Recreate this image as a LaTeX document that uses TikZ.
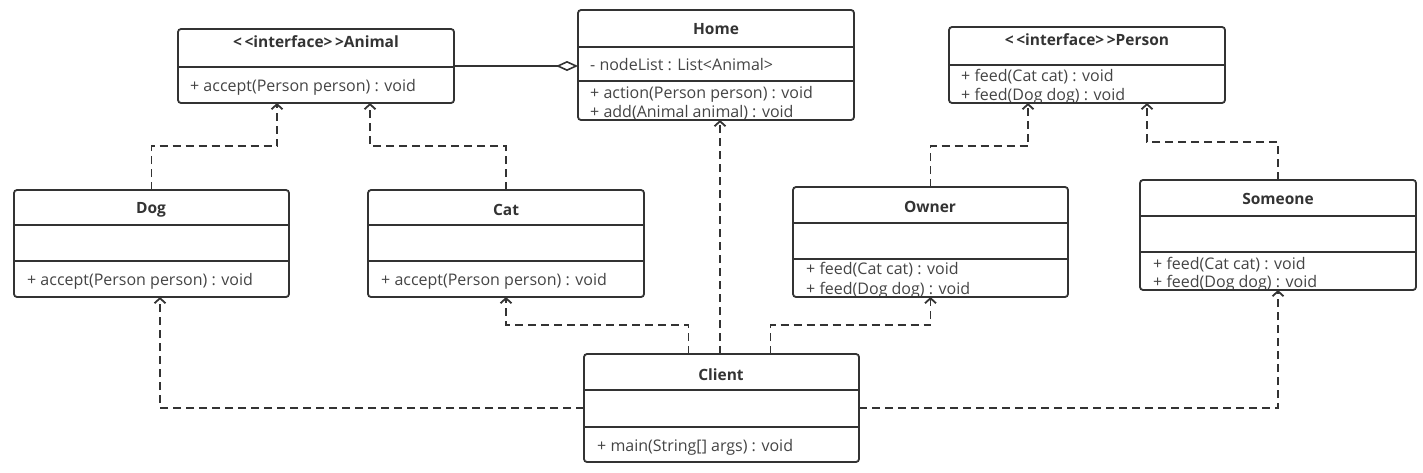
\documentclass[tikz,border=0pt]{standalone}
\usepackage{fontspec}
\setmainfont{Open Sans}
\usetikzlibrary{arrows.meta}
\definecolor{ln}{HTML}{333333}
\definecolor{tx}{HTML}{444444}
\tikzset{
  cls/.style={draw=ln, line width=1.8pt, rounded corners=3pt, inner sep=0pt, outer sep=0pt},
  div/.style={draw=ln, line width=1.8pt},
  ttl/.style={font=\fontsize{15.5}{17}\selectfont\bfseries, text=ln, inner sep=0pt},
  mth/.style={font=\fontsize{16}{18}\selectfont, text=tx, anchor=west, inner sep=0pt},
  dep/.style={draw=ln, line width=1.8pt, dash pattern=on 8pt off 5pt, -{Straight Barb[length=5pt,width=11pt,line width=1.8pt]}},
  agg/.style={draw=ln, line width=1.8pt, -{Diamond[open,length=22pt,width=10pt,line width=1.6pt]}}
}
\newcommand{\stereo}[1]{<\kern2.5pt<interface>\kern2.5pt>#1}
\begin{document}
\begin{tikzpicture}[x=1pt,y=-1pt]
\useasboundingbox (0,0) rectangle (1423,472);
% texts
\node[ttl] at (316,42) {\stereo{Animal}};
\node[mth] at (190,87) {+ accept(Person person) : void};
\node[ttl] at (716,29) {Home};
\node[mth] at (590,65) {- nodeList : List<Animal>};
\node[mth] at (590,94) {+ action(Person person) : void};
\node[mth] at (590,113) {+ add(Animal animal) : void};
\node[ttl] at (1087,40) {\stereo{Person}};
\node[mth] at (961,77) {+ feed(Cat cat) : void};
\node[mth] at (961,96) {+ feed(Dog dog) : void};
\node[ttl] at (151,210) {Dog};
\node[mth] at (27,281) {+ accept(Person person) : void};
\node[ttl] at (506,210) {Cat};
\node[mth] at (381,281) {+ accept(Person person) : void};
\node[ttl] at (930,207) {Owner};
\node[mth] at (806,270) {+ feed(Cat cat) : void};
\node[mth] at (806,290) {+ feed(Dog dog) : void};
\node[ttl] at (1278,199) {Someone};
\node[mth] at (1153,265) {+ feed(Cat cat) : void};
\node[mth] at (1153,283) {+ feed(Dog dog) : void};
\node[ttl] at (721,375) {Client};
\node[mth] at (597,447) {+ main(String[] args) : void};
% boxes
\node[cls, minimum width=276pt, minimum height=74pt] (animal) at (316,66) {};
\node[cls, minimum width=276pt, minimum height=110pt] (home) at (716,65) {};
\node[cls, minimum width=276pt, minimum height=76pt] (person) at (1087,65) {};
\node[cls, minimum width=275pt, minimum height=107pt] (dog) at (151.5,243.5) {};
\node[cls, minimum width=276pt, minimum height=107pt] (cat) at (506,243.5) {};
\node[cls, minimum width=275pt, minimum height=110pt] (owner) at (930.5,242) {};
\node[cls, minimum width=276pt, minimum height=110pt] (someone) at (1278,235) {};
\node[cls, minimum width=275pt, minimum height=108pt] (client) at (721.5,408) {};
% dividers
\draw[div] (178,67) -- (454,67);
\draw[div] (578,47) -- (854,47);
\draw[div] (578,81) -- (854,81);
\draw[div] (949,65) -- (1225,65);
\draw[div] (14,225) -- (289,225);
\draw[div] (14,261) -- (289,261);
\draw[div] (368,225) -- (644,225);
\draw[div] (368,261) -- (644,261);
\draw[div] (793,223) -- (1068,223);
\draw[div] (793,259) -- (1068,259);
\draw[div] (1140,216) -- (1416,216);
\draw[div] (1140,252) -- (1416,252);
\draw[div] (584,390) -- (859,390);
\draw[div] (584,427) -- (859,427);
% connectors
\draw[agg] (animal.east) -- (home.west |- animal.east);
\draw[dep] (dog.north) -- ++(0,-44) -| ([xshift=-39pt]animal.south);
\draw[dep] (cat.north) -- ++(0,-44) -| ([xshift=54pt]animal.south);
\draw[dep] (owner.north) -- ++(0,-41) -| ([xshift=-59pt]person.south);
\draw[dep] (someone.north) -- ++(0,-38) -| ([xshift=60pt]person.south);
\draw[dep] ([xshift=-1.5pt]client.north) -- ([xshift=-1.5pt]client.north |- home.south);
\draw[dep] ([xshift=-33pt]client.north) -- ++(0,-29) -| (cat.south);
\draw[dep] ([xshift=49pt]client.north) -- ++(0,-29) -| (owner.south);
\draw[dep] (client.west) -| ([xshift=8.5pt]dog.south);
\draw[dep] (client.east) -| (someone.south);
\end{tikzpicture}
\end{document}
